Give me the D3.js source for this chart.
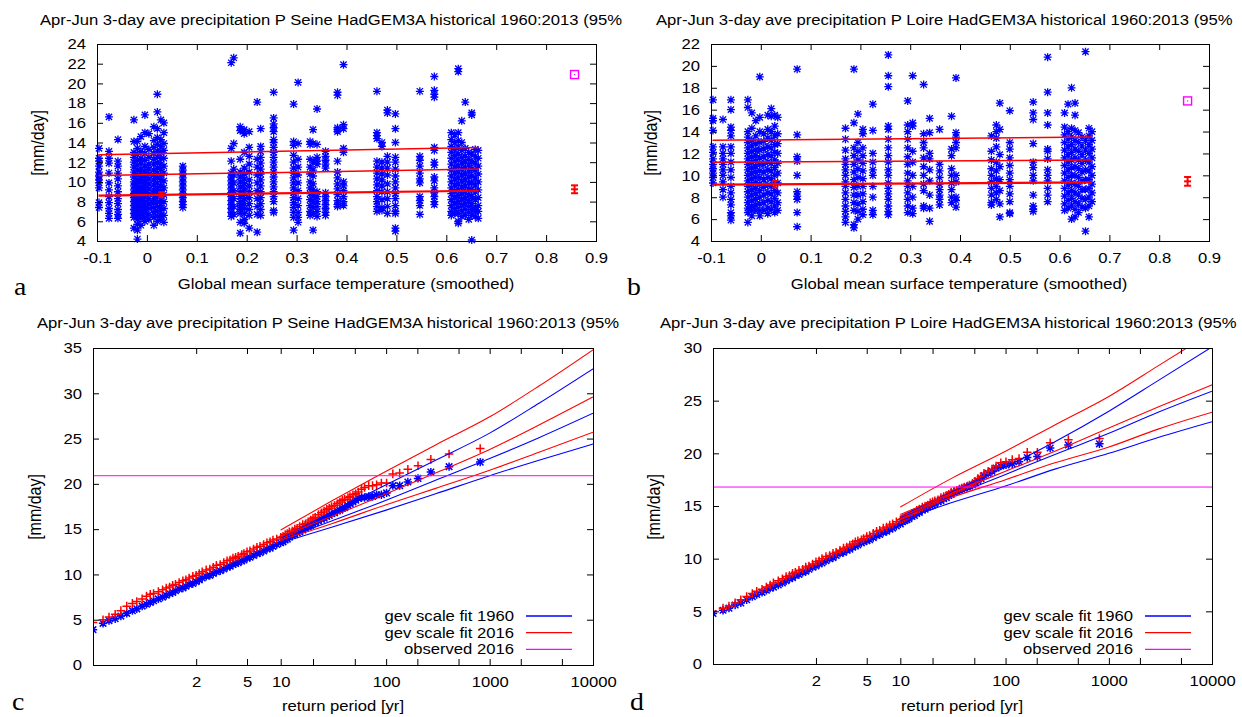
<!DOCTYPE html>
<html>
<head>
<meta charset="utf-8">
<script src="https://cdn.jsdelivr.net/npm/d3@7"></script>
<style>
body { margin: 0; background: #fff; }
svg text { font-family: "Liberation Sans", Arial, Helvetica, sans-serif; font-size: 15px; fill: #000; }
svg text.lett { font-family: "Liberation Serif", "Times New Roman", serif; font-size: 25px; }
svg text.ylab { font-size: 16px; }
</style>
</head>
<body>
<div id="chart"></div>
<script>
// ---- data ----

// panel a: Seine, precipitation against smoothed GMST (one column per model year)
var seineGmst = [-0.096, -0.076, -0.058, -0.026, -0.019, -0.012, -0.004, 0.004, 0.014, 0.021, 0.028, 0.034,
  0.072, 0.169, 0.174, 0.187, 0.195, 0.205, 0.221, 0.228, 0.254, 0.294, 0.303, 0.327, 0.333, 0.341, 0.358,
  0.382, 0.394, 0.461, 0.471, 0.482, 0.498, 0.547, 0.576, 0.610, 0.617, 0.624, 0.631, 0.638, 0.645, 0.651, 0.658, 0.664];
var seinePrecip = [
  [13.4, 12.4, 12.1, 11.6, 11.0, 10.6, 10.2, 9.9, 9.4, 7.9, 7.4],
  [16.6, 13.1, 12.4, 11.9, 10.9, 9.9, 9.2, 8.5, 7.9, 7.3, 6.8, 6.3],
  [14.3, 12.1, 11.6, 10.9, 10.3, 9.6, 9.0, 8.3, 7.8, 7.2, 6.7, 6.3],
  [16.3, 14.1, 13.0, 12.5, 12.0, 11.5, 11.0, 10.5, 10.0, 9.6, 9.2, 8.8, 8.4, 8.0, 7.6, 7.2, 6.8, 6.4, 5.3],
  [14.1, 13.4, 12.8, 12.2, 11.7, 11.2, 10.7, 10.2, 9.8, 9.4, 9.0, 8.6, 8.2, 7.8, 7.4, 7.0, 6.6, 6.2, 5.7, 5.1, 4.2],
  [14.6, 13.1, 12.4, 11.9, 11.3, 10.9, 10.4, 10.0, 9.5, 9.1, 8.7, 8.3, 7.9, 7.5, 7.1, 6.7, 6.3, 5.6],
  [16.8, 15.0, 13.6, 12.9, 12.2, 11.6, 11.1, 10.6, 10.1, 9.7, 9.3, 8.9, 8.5, 8.0, 7.6, 7.2, 6.8, 6.4, 6.0],
  [14.9, 13.3, 12.5, 11.8, 11.3, 10.8, 10.3, 9.8, 9.3, 8.8, 8.3, 7.8, 7.3, 6.7, 6.2],
  [15.6, 14.2, 13.5, 12.9, 12.3, 11.8, 11.2, 10.7, 10.2, 9.7, 9.2, 8.8, 8.3, 7.9, 7.4, 6.9, 6.4, 5.6],
  [18.9, 17.1, 15.4, 14.5, 13.8, 13.1, 12.5, 11.9, 11.4, 10.9, 10.4, 9.9, 9.4, 9.0, 8.5, 8.0, 7.5, 7.0, 6.5, 6.0],
  [16.3, 14.3, 13.6, 13.0, 12.4, 11.8, 11.3, 10.7, 10.2, 9.6, 9.1, 8.6, 8.1, 7.6, 7.1, 6.6, 6.2],
  [16.0, 15.0, 13.9, 13.2, 12.4, 11.6, 10.9, 10.1, 9.4, 8.7, 8.0, 7.3, 6.6, 5.9],
  [11.6, 11.2, 10.8, 10.4, 10.0, 9.6, 9.2, 8.8, 8.4, 8.0, 7.7, 7.4],
  [22.1, 13.4, 12.1, 10.9, 10.5, 10.1, 9.7, 9.3, 8.9, 8.5, 8.1, 7.7, 7.3, 6.9, 6.5],
  [22.6, 13.9, 11.3, 10.7, 9.9, 9.1, 8.3, 7.5, 6.7],
  [15.6, 15.2, 12.3, 11.0, 10.5, 10.0, 9.5, 9.0, 8.5, 8.0, 7.6, 7.2, 6.8, 5.9, 4.8],
  [15.3, 14.9, 13.0, 11.4, 10.8, 10.3, 9.8, 9.3, 8.8, 8.3, 7.8, 7.3, 6.8, 6.2, 5.8],
  [15.1, 13.5, 12.6, 11.8, 11.0, 10.2, 9.6, 9.0, 8.4, 7.8, 7.2, 6.6, 5.3],
  [18.1, 12.3, 11.5, 10.7, 9.9, 9.1, 8.3, 7.5, 6.7, 4.9],
  [15.4, 13.6, 13.1, 12.5, 11.9, 11.3, 10.8, 10.2, 9.6, 9.0, 8.4, 7.8, 7.2, 6.6],
  [19.1, 16.5, 15.9, 15.5, 15.1, 14.3, 14.0, 13.5, 13.0, 12.5, 12.0, 11.5, 11.0, 10.5, 10.0, 9.5, 9.0, 8.5, 8.0, 7.1, 6.9],
  [17.9, 14.1, 13.7, 12.7, 12.0, 11.4, 10.9, 10.4, 9.9, 9.4, 8.9, 8.4, 7.9, 7.4, 6.9, 6.4, 5.1],
  [20.1, 13.9, 12.3, 11.5, 10.7, 9.9, 9.1, 8.3, 7.6, 6.9, 6.4, 5.9],
  [14.1, 13.8, 12.3, 11.5, 10.8, 10.0, 9.4, 8.8, 8.2, 7.6, 7.0, 6.6],
  [15.3, 13.9, 12.0, 11.2, 10.6, 9.8, 9.2, 8.6, 8.0, 7.4, 6.8, 5.1],
  [17.4, 13.8, 12.5, 12.1, 11.8, 9.0, 8.5, 8.0, 7.5, 7.0, 6.5],
  [13.1, 12.6, 12.2, 11.8, 11.4, 8.9, 8.5, 8.1, 7.7, 7.3, 6.9, 6.6],
  [19.1, 18.8, 15.5, 15.3, 15.1, 12.1, 11.0, 10.4, 9.8, 9.3, 8.7, 8.1, 7.7, 7.5],
  [21.9, 15.8, 15.4, 13.4, 13.0, 10.0, 9.6, 9.1, 8.5, 8.0, 7.6],
  [19.2, 15.0, 14.7, 14.4, 12.1, 11.5, 10.9, 10.3, 9.7, 9.1, 8.5, 8.0, 7.5, 7.0],
  [14.0, 13.6, 12.0, 11.4, 10.8, 10.2, 9.6, 9.0, 8.2, 7.4, 7.1],
  [17.3, 17.0, 12.6, 12.0, 11.4, 10.7, 9.8, 9.0, 8.3, 7.5, 6.8],
  [16.9, 15.4, 14.0, 12.5, 12.0, 11.3, 10.6, 10.0, 9.4, 8.8, 8.3, 7.6, 7.0, 6.8, 5.3, 5.0],
  [19.2, 12.6, 12.2, 11.6, 10.9, 10.3, 9.9, 8.5, 8.1, 7.6, 6.7],
  [20.7, 19.3, 18.9, 18.6, 13.5, 13.2, 12.0, 11.7, 10.5, 10.1, 9.4, 8.9, 8.5, 8.0, 7.7],
  [15.0, 14.3, 13.6, 13.0, 12.4, 11.8, 11.2, 10.6, 10.0, 9.4, 8.8, 8.2, 7.6, 7.0, 6.6],
  [14.8, 14.0, 13.3, 12.7, 12.1, 11.5, 10.9, 10.3, 9.7, 9.1, 8.5, 7.9, 7.3, 6.8],
  [21.5, 21.2, 15.0, 14.2, 13.5, 12.8, 12.2, 11.6, 11.0, 10.4, 9.8, 9.2, 8.6, 8.0, 7.4, 6.8, 6.0, 5.8],
  [16.2, 14.0, 13.2, 12.5, 11.9, 11.3, 10.7, 10.1, 9.5, 8.9, 8.3, 7.7, 7.1, 6.5],
  [18.1, 13.4, 12.6, 12.0, 11.4, 10.8, 10.2, 9.6, 9.0, 8.4, 7.8, 7.2, 6.6],
  [13.0, 12.3, 11.7, 11.1, 10.5, 9.9, 9.3, 8.7, 8.1, 7.5, 6.9, 6.2],
  [17.0, 16.8, 12.8, 12.0, 11.3, 10.6, 9.9, 9.2, 8.5, 7.8, 7.2, 6.6, 4.1],
  [13.3, 12.6, 11.9, 11.2, 10.4, 9.7, 9.0, 8.2, 7.4, 7.0, 6.5],
  [13.2, 12.4, 11.6, 10.8, 10.0, 9.2, 8.4, 7.6, 7.0, 6.3]
];

// panel b: Loire
var loireGmst = [-0.096, -0.076, -0.060, -0.026, -0.018, -0.010, -0.002, 0.006, 0.014, 0.021, 0.028, 0.034,
  0.073, 0.170, 0.187, 0.195, 0.205, 0.225, 0.256, 0.295, 0.305, 0.327, 0.339, 0.359, 0.383, 0.392,
  0.463, 0.473, 0.480, 0.500, 0.547, 0.576, 0.610, 0.617, 0.624, 0.631, 0.638, 0.645, 0.652, 0.659, 0.665];
var loirePrecip = [
  [16.9, 15.2, 15.0, 14.1, 12.6, 12.1, 11.5, 11.0, 10.6, 10.2, 9.8, 9.3],
  [15.1, 12.6, 12.0, 11.5, 11.0, 10.5, 10.0, 9.4, 8.7, 8.0],
  [16.9, 16.0, 14.4, 14.1, 13.6, 12.6, 12.0, 11.2, 10.5, 9.8, 9.0, 8.4, 7.8, 7.3, 6.6, 6.3, 5.9],
  [16.9, 16.2, 14.0, 13.5, 13.0, 12.5, 12.0, 11.5, 11.0, 10.5, 10.0, 9.5, 9.0, 8.5, 8.0, 7.5, 7.0, 6.6, 5.7],
  [15.7, 14.3, 13.2, 12.7, 12.2, 11.7, 11.2, 10.7, 10.2, 9.7, 9.2, 8.7, 8.2, 7.7, 7.2, 6.8, 6.3],
  [15.0, 13.6, 12.9, 12.3, 11.8, 11.3, 10.8, 10.3, 9.8, 9.3, 8.8, 8.3, 7.8, 7.3, 6.8],
  [19.0, 15.3, 14.0, 13.0, 12.3, 11.6, 11.0, 10.4, 9.8, 9.2, 8.6, 8.0, 7.4, 6.8, 6.3],
  [13.8, 13.1, 12.4, 11.7, 11.0, 10.3, 9.6, 8.9, 8.2, 7.5, 6.8],
  [15.5, 14.2, 13.4, 12.6, 11.9, 11.2, 10.5, 9.8, 9.1, 8.4, 7.7, 7.0, 6.5],
  [16.1, 15.4, 14.0, 13.2, 12.5, 11.8, 11.1, 10.4, 9.7, 9.0, 8.3, 7.6, 6.9],
  [15.5, 14.5, 13.6, 12.8, 12.1, 11.4, 10.7, 10.0, 9.3, 8.6, 7.9, 7.2, 6.6],
  [15.3, 13.8, 12.9, 12.0, 11.1, 10.2, 9.3, 8.4, 7.5, 6.8],
  [19.7, 13.7, 11.7, 11.3, 10.0, 8.5, 8.1, 7.8, 6.6, 5.3],
  [14.3, 13.3, 12.3, 11.5, 11.0, 10.5, 10.0, 9.4, 9.0, 8.4, 7.8, 7.2, 6.7, 6.2, 5.7],
  [19.7, 14.8, 12.5, 11.8, 11.0, 10.3, 9.6, 8.9, 8.2, 7.5, 6.8, 5.5, 5.2],
  [15.6, 13.0, 12.2, 11.4, 10.6, 9.8, 9.0, 8.2, 7.4, 6.7, 6.0],
  [14.2, 13.8, 12.5, 11.8, 11.1, 10.4, 9.7, 9.0, 8.3, 7.6, 6.9, 6.4],
  [16.5, 14.1, 12.0, 11.2, 10.5, 10.0, 9.0, 8.0, 6.8, 6.4],
  [21.0, 19.1, 18.1, 14.5, 14.2, 13.3, 12.5, 11.8, 11.2, 10.5, 10.0, 9.3, 8.8, 8.3, 7.8, 7.2, 6.7, 6.4],
  [16.8, 14.6, 14.0, 13.3, 12.5, 11.7, 11.0, 10.2, 9.5, 9.0, 8.4, 7.8, 7.2, 6.6],
  [19.1, 14.8, 14.5, 12.2, 11.2, 10.0, 9.0, 8.0, 7.0, 6.5],
  [18.3, 13.8, 13.0, 12.5, 11.6, 10.8, 10.0, 9.2, 8.6, 7.2, 7.0],
  [15.2, 13.9, 12.0, 11.5, 10.5, 9.5, 8.2, 7.0, 5.8],
  [14.2, 11.0, 10.4, 9.8, 9.2, 8.7, 8.2, 7.8, 7.3],
  [15.4, 12.4, 11.8, 10.6, 10.0, 9.3, 8.7, 8.0, 7.5],
  [18.9, 13.9, 13.5, 13.0, 12.5, 10.0, 9.4, 8.0, 7.7, 7.1],
  [13.6, 12.2, 11.4, 10.6, 10.0, 9.4, 8.8, 8.2, 7.5, 7.3],
  [14.6, 14.0, 13.4, 12.6, 11.2, 10.4, 9.7, 9.0, 8.4, 7.8],
  [16.6, 14.2, 11.9, 10.8, 9.6, 8.6, 7.4, 6.2],
  [15.9, 13.0, 12.4, 11.6, 10.9, 10.2, 9.6, 9.0, 8.3, 7.6, 6.6, 6.5],
  [16.7, 15.7, 15.1, 12.9, 11.2, 10.7, 10.0, 9.5, 8.2, 7.2, 6.9, 6.7],
  [20.8, 17.6, 15.7, 14.6, 12.4, 12.2, 11.5, 10.5, 10.0, 9.5, 8.8, 8.2, 7.6],
  [15.7, 14.4, 13.7, 13.0, 12.3, 11.6, 10.9, 10.2, 9.5, 8.8, 8.1, 7.4, 6.8],
  [16.5, 14.0, 13.3, 12.6, 11.9, 11.2, 10.5, 9.8, 9.1, 8.4, 7.7, 7.0],
  [18.0, 14.3, 13.5, 12.8, 12.1, 11.4, 10.7, 10.0, 9.3, 8.6, 7.9, 7.2, 6.0],
  [16.6, 15.5, 14.1, 13.2, 12.4, 11.6, 10.8, 10.0, 9.2, 8.4, 7.6, 6.9, 6.2],
  [13.9, 13.0, 12.2, 11.4, 10.6, 9.8, 9.0, 8.2, 7.4, 6.6],
  [13.5, 12.7, 11.9, 11.1, 10.3, 9.5, 8.7, 7.9, 7.1],
  [21.3, 13.2, 12.3, 11.4, 10.5, 9.6, 8.7, 7.8, 7.0, 4.9],
  [14.3, 13.6, 12.8, 12.0, 11.2, 10.4, 9.6, 8.8, 8.0, 7.2, 6.2],
  [14.0, 13.2, 12.4, 11.6, 10.8, 10.0, 9.2, 8.4, 7.6]
];

// fitted location lines (mu, mu+sigma, mu+2sigma) at the ends of the GMST range
var fitGmst = [-0.097, 0.665];
var seineFitLines = [[8.6, 9.1], [10.65, 11.3], [12.75, 13.5]];
var loireFitLines = [[9.15, 9.35], [11.2, 11.4], [13.2, 13.5]];

// error bars [low, mid, high] for 1960 and 2016, observed 2016 value
var gmst1960 = 0.029, gmst2016 = 0.857;
var seineErr1960 = [8.45, 8.7, 8.95], seineErr2016 = [8.85, 9.25, 9.65];
var loireErr1960 = [8.9, 9.2, 9.5], loireErr2016 = [9.05, 9.45, 9.85];
var seineObs2016 = 20.9, loireObs2016 = 16.8;

// panels c, d: sorted values against empirical return period (yr)
var retPeriod = [810, 405, 270, 203, 162, 135, 116, 101, 90, 81, 74, 68, 62, 58, 54, 51, 48, 45, 43, 40,
  38, 36, 34, 32, 30, 28.5, 27, 25.5, 24, 22.5, 21, 20, 19, 18, 17, 16, 15, 14.2, 13.5, 12.8, 12, 11.5, 11, 10.5,
  10, 9.2, 8.5, 8, 7.5, 7, 6.5, 6.1, 5.7, 5.3, 5, 4.7, 4.5, 4.2, 4, 3.8, 3.6, 3.4, 3.2, 3, 2.8, 2.65, 2.5, 2.35,
  2.2, 2.1, 2, 1.9, 1.8, 1.72, 1.65, 1.57, 1.5, 1.45, 1.4, 1.35, 1.3, 1.25, 1.2, 1.17, 1.14, 1.11, 1.08, 1.06,
  1.04, 1.025, 1.015, 1.008, 1.004, 1.001];
var seine1960 = [22.4, 21.9, 21.3, 20.6, 20.2, 19.8, 19.8, 19.0, 18.8, 18.8, 18.6, 18.6, 18.5, 18.5, 18.4, 18.2, 18.0, 17.8, 17.6, 17.4,
  17.3, 17.1, 17.0, 16.8, 16.7, 16.5, 16.4, 16.2, 16.1, 15.9, 15.7, 15.6, 15.4, 15.3, 15.1, 14.9, 14.7, 14.6, 14.4, 14.3, 14.1, 13.9, 13.8, 13.6,
  13.5, 13.3, 13.1, 12.9, 12.8, 12.6, 12.4, 12.3, 12.1, 11.9, 11.8, 11.6, 11.5, 11.3, 11.2, 11.1, 10.9, 10.8, 10.6, 10.4, 10.3, 10.1, 9.9, 9.8,
  9.6, 9.4, 9.2, 9.0, 8.9, 8.7, 8.5, 8.4, 8.2, 8.0, 7.9, 7.7, 7.5, 7.3, 7.1, 6.9, 6.7, 6.5, 6.2, 6.0,
  5.7, 5.4, 5.1, 4.9, 4.6, 3.9];
var seine2016 = [23.9, 23.3, 22.7, 22.0, 21.6, 21.2, 21.1, 20.1, 20.1, 19.9, 19.8, 19.8, 19.6, 19.4, 19.1, 18.9, 18.8, 18.6, 18.5, 18.3,
  18.2, 18.0, 17.8, 17.6, 17.5, 17.3, 17.2, 17.0, 16.8, 16.6, 16.3, 16.2, 16.0, 15.8, 15.6, 15.5, 15.3, 15.1, 15.0, 14.8, 14.7, 14.5, 14.4, 14.2,
  14.1, 13.9, 13.8, 13.6, 13.5, 13.3, 13.1, 13.0, 12.8, 12.6, 12.5, 12.3, 12.2, 12.0, 11.9, 11.8, 11.6, 11.5, 11.3, 11.1, 11.0, 10.8, 10.6, 10.5,
  10.3, 10.1, 9.9, 9.8, 9.6, 9.4, 9.3, 9.1, 8.9, 8.8, 8.6, 8.5, 8.3, 8.1, 7.9, 7.8, 7.6, 7.3, 7.0, 6.8,
  6.5, 6.0, 5.6, 5.3, 5.0, 4.7];
var loire1960 = [20.9, 20.8, 20.5, 19.7, 19.6, 19.2, 19.0, 18.9, 18.8, 18.6, 18.3, 18.1, 17.9, 17.6, 17.4, 17.2, 17.0, 16.9, 16.8, 16.7,
  16.6, 16.5, 16.4, 16.3, 16.1, 16.0, 15.8, 15.7, 15.5, 15.4, 15.2, 15.1, 15.0, 14.9, 14.7, 14.6, 14.4, 14.3, 14.1, 14.0, 13.8, 13.7, 13.6, 13.5,
  13.3, 13.1, 12.9, 12.8, 12.6, 12.5, 12.3, 12.2, 12.0, 11.8, 11.7, 11.6, 11.5, 11.3, 11.2, 11.1, 10.9, 10.8, 10.6, 10.5, 10.3, 10.1, 10.0, 9.8,
  9.6, 9.5, 9.3, 9.2, 9.0, 8.8, 8.7, 8.5, 8.4, 8.2, 8.1, 7.9, 7.7, 7.5, 7.3, 7.2, 7.0, 6.8, 6.6, 6.4,
  6.1, 5.8, 5.6, 5.3, 5.1, 4.8];
var loire2016 = [21.4, 21.3, 21.0, 20.1, 20.1, 19.5, 19.4, 19.2, 19.1, 18.8, 18.5, 18.3, 18.1, 17.8, 17.6, 17.3, 17.1, 17.0, 16.9, 16.8,
  16.7, 16.6, 16.5, 16.4, 16.3, 16.1, 16.0, 15.9, 15.8, 15.6, 15.5, 15.4, 15.3, 15.1, 15.0, 14.9, 14.7, 14.6, 14.4, 14.3, 14.1, 14.0, 13.9, 13.8,
  13.7, 13.5, 13.3, 13.2, 13.0, 12.9, 12.7, 12.6, 12.4, 12.2, 12.1, 11.9, 11.8, 11.7, 11.6, 11.4, 11.3, 11.1, 11.0, 10.8, 10.6, 10.5, 10.3, 10.2,
  10.0, 9.8, 9.7, 9.5, 9.3, 9.2, 9.0, 8.9, 8.7, 8.6, 8.4, 8.3, 8.1, 7.9, 7.7, 7.5, 7.3, 7.1, 6.9, 6.7,
  6.4, 6.1, 5.8, 5.5, 5.3, 5.0];

// GEV fits (lower, central, upper) at these return periods
var fitPeriod = [10, 30, 100, 300, 1000, 3000, 10000];
var seineFit1960 = [[13.5, 15.2, 17.1, 18.9, 20.9, 22.6, 24.4], [13.8, 15.9, 18.2, 20.4, 22.8, 25.1, 27.8], [14.0, 16.9, 19.9, 22.6, 25.6, 28.9, 32.7]];
var seineFit2016 = [[13.8, 15.6, 17.7, 19.5, 21.5, 23.5, 25.7], [14.2, 16.4, 18.9, 21.2, 23.8, 26.5, 29.6], [14.9, 18.1, 21.4, 24.3, 27.4, 30.8, 34.8]];
var loireFit1960 = [[13.6, 15.3, 16.9, 18.5, 20.0, 21.5, 23.0], [13.9, 15.9, 18.0, 19.9, 21.9, 23.9, 25.9], [14.0, 16.3, 18.7, 21.1, 24.0, 26.9, 30.1]];
var loireFit2016 = [[14.0, 15.8, 17.5, 19.1, 20.6, 22.3, 23.9], [14.2, 16.2, 18.3, 20.2, 22.4, 24.4, 26.5], [14.9, 17.6, 20.2, 22.7, 25.4, 28.3, 31.5]];

// ticks
var gmstTicks = [-0.1, 0, 0.1, 0.2, 0.3, 0.4, 0.5, 0.6, 0.7, 0.8, 0.9];
var seineTicks = [4, 6, 8, 10, 12, 14, 16, 18, 20, 22, 24];
var loireTicks = [4, 6, 8, 10, 12, 14, 16, 18, 20, 22];
var rpTicks = [2, 5, 10, 20, 50, 100, 200, 500, 1000, 2000, 5000, 10000];
var rpLabelled = [2, 5, 10, 100, 1000, 10000];
var seineRpTicks = [0, 5, 10, 15, 20, 25, 30, 35];
var loireRpTicks = [0, 5, 10, 15, 20, 25, 30];
var rpMin = 1.001, rpMax = 10000;

// titles as far as they are visible in the figure
var titleSeine = "Apr-Jun 3-day ave precipitation P Seine HadGEM3A historical 1960:2013 (95%";
var titleLoire = "Apr-Jun 3-day ave precipitation P Loire HadGEM3A historical 1960:2013 (95%";

// ---- drawing ----
var W = 1242, H = 717, SX = 1.11;
var BLUE = "#0000ff", RED = "#ff0000", MAG = "#ff00ff";

var svg = d3.select("#chart").append("svg")
  .attr("width", W).attr("height", H);

var defs = svg.append("defs");

// gumbel reduced variate, used for the return period axis
function gum(T) { return -Math.log(-Math.log(1 - 1 / T)); }

function star(r) {
  var a = r * 0.78;
  return "M" + (-r) + ",0H" + r + "M0," + (-r) + "V" + r +
    "M" + (-a) + "," + (-a) + "L" + a + "," + a + "M" + (-a) + "," + a + "L" + a + "," + (-a);
}
function plus(r) {
  return "M" + (-r) + ",0H" + r + "M0," + (-r) + "V" + r;
}

function label(g, x, y, s, anchor, cls) {
  return g.append("text")
    .attr("class", cls || null)
    .attr("text-anchor", anchor || "start")
    .attr("transform", "translate(" + x + "," + y + ") scale(" + SX + ",1)")
    .text(s);
}

// title, squeezed a little if it would run past the right end of its half
function title(g, x, y, s, maxRight) {
  var t = label(g, x, y, s);
  var wd = t.node().getComputedTextLength() * SX;
  if (x + wd > maxRight) {
    var k = (maxRight - x) / wd;
    t.attr("transform", "translate(" + x + "," + y + ") scale(" + (SX * k) + ",1)");
  }
  return t;
}

function frame(g, xs, ys, xt, xf, yt, w, h) {
  var ax;
  ax = g.append("g").attr("transform", "translate(0," + h + ")")
    .call(d3.axisBottom(xs).tickValues(xt).tickFormat(xf).tickSizeInner(-6).tickSizeOuter(0).tickPadding(11));
  ax.select(".domain").remove();
  ax = g.append("g")
    .call(d3.axisTop(xs).tickValues(xt).tickFormat("").tickSizeInner(-6).tickSizeOuter(0));
  ax.select(".domain").remove();
  ax = g.append("g")
    .call(d3.axisLeft(ys).tickValues(yt).tickFormat(function(d){ return String(d); })
      .tickSizeInner(-6).tickSizeOuter(0).tickPadding(10));
  ax.select(".domain").remove();
  ax = g.append("g").attr("transform", "translate(" + w + ",0)")
    .call(d3.axisRight(ys).tickValues(yt).tickFormat("").tickSizeInner(-6).tickSizeOuter(0));
  ax.select(".domain").remove();
  g.selectAll(".tick text").attr("transform", "scale(" + SX + ",1)");
  g.selectAll(".tick line").attr("stroke", "#000");
  g.append("rect")
    .attr("x", 0.5).attr("y", 0.5).attr("width", w).attr("height", h)
    .attr("fill", "none").attr("stroke", "#000").attr("stroke-width", 1);
}

function errBar(g, x, e, half) {
  var eb = g.append("g").attr("stroke", RED).attr("stroke-width", 2).attr("fill", "none");
  eb.append("line").attr("x1", x).attr("x2", x).attr("y1", e[0]).attr("y2", e[2]);
  [e[0], e[1], e[2]].forEach(function(v) {
    eb.append("line").attr("x1", x - half).attr("x2", x + half).attr("y1", v).attr("y2", v);
  });
}

function scatterPanel(cfg) {
  var root = svg.append("g");
  title(root, cfg.titleX, 25, cfg.title, cfg.right);
  var w = cfg.w, h = 197;
  var g = root.append("g").attr("transform", "translate(" + cfg.left + ",44)");
  var xs = d3.scaleLinear().domain([-0.1, 0.9]).range([0, w]);
  var ys = d3.scaleLinear().domain([4, cfg.yMax]).range([h, 0]);

  var pts = [];
  cfg.gmst.forEach(function(x, i) {
    cfg.precip[i].forEach(function(v) { pts.push([x, v]); });
  });

  var plot = g.append("g");
  plot.selectAll(".dots").data(pts).enter().append("path")
    .attr("class", "dots")
    .attr("d", star(4))
    .attr("transform", function(d) { return "translate(" + xs(d[0]) + "," + ys(d[1]) + ")"; })
    .attr("fill", "none").attr("stroke", BLUE).attr("stroke-width", 1.3);

  var line = d3.line().x(function(d) { return xs(d[0]); }).y(function(d) { return ys(d[1]); });
  cfg.fit.forEach(function(f, i) {
    plot.append("path")
      .attr("d", line([[fitGmst[0], f[0]], [fitGmst[1], f[1]]]))
      .attr("fill", "none").attr("stroke", RED).attr("stroke-width", i === 0 ? 2.2 : 1.5);
  });

  errBar(plot, xs(gmst1960), cfg.err1960.map(ys), 3);
  errBar(plot, xs(gmst2016), cfg.err2016.map(ys), 3.5);

  plot.append("rect")
    .attr("x", xs(gmst2016) - 4).attr("y", ys(cfg.obs) - 4).attr("width", 8).attr("height", 8)
    .attr("fill", "none").attr("stroke", MAG).attr("stroke-width", 1.4);
  plot.append("rect")
    .attr("x", xs(gmst2016) - 0.6).attr("y", ys(cfg.obs) - 0.6).attr("width", 1.2).attr("height", 1.2)
    .attr("fill", MAG);

  frame(g, xs, ys, gmstTicks, function(d) { return String(+d.toFixed(1)); }, cfg.yTicks, w, h);

  label(root, cfg.xLabelX, 289, "Global mean surface temperature (smoothed)", "middle");
  root.append("text")
    .attr("class", "ylab")
    .attr("text-anchor", "middle")
    .attr("transform", "translate(" + cfg.yLabelX + ",143) scale(" + SX + ",1) rotate(-90)")
    .text("[mm/day]");
  label(root, cfg.letterX, 295, cfg.letter, "start", "lett");
}

function returnPanel(cfg) {
  var root = svg.append("g");
  title(root, cfg.titleX, 328, cfg.title, cfg.right);
  var w = cfg.w, h = cfg.h;
  var g = root.append("g").attr("transform", "translate(" + cfg.left + ",348)");
  var xg = d3.scaleLinear().domain([gum(rpMin), gum(rpMax)]).range([0, w]);
  var xs = function(T) { return xg(gum(T)); };
  var ys = d3.scaleLinear().domain([0, cfg.yMax]).range([h, 0]);

  defs.append("clipPath").attr("id", "plot" + cfg.letter).append("rect")
    .attr("x", 0).attr("y", 0).attr("width", w).attr("height", h);
  var plot = g.append("g").attr("clip-path", "url(#plot" + cfg.letter + ")");

  plot.selectAll(".obs60").data(retPeriod).enter().append("path")
    .attr("class", "obs60")
    .attr("d", star(4.2))
    .attr("transform", function(T, i) { return "translate(" + xs(T) + "," + ys(cfg.v1960[i]) + ")"; })
    .attr("fill", "none").attr("stroke", BLUE).attr("stroke-width", 1.5);
  plot.selectAll(".obs16").data(retPeriod).enter().append("path")
    .attr("class", "obs16")
    .attr("d", plus(4.3))
    .attr("transform", function(T, i) { return "translate(" + xs(T) + "," + ys(cfg.v2016[i]) + ")"; })
    .attr("fill", "none").attr("stroke", RED).attr("stroke-width", 1.5);

  var line = d3.line()
    .x(function(d, i) { return xs(fitPeriod[i]); })
    .y(function(d) { return ys(d); })
    .curve(d3.curveMonotoneX);
  cfg.fit1960.forEach(function(f) {
    plot.append("path").attr("d", line(f)).attr("fill", "none").attr("stroke", BLUE).attr("stroke-width", 1.1);
  });
  cfg.fit2016.forEach(function(f) {
    plot.append("path").attr("d", line(f)).attr("fill", "none").attr("stroke", RED).attr("stroke-width", 1.1);
  });
  plot.append("line")
    .attr("x1", 0).attr("x2", w).attr("y1", ys(cfg.obs)).attr("y2", ys(cfg.obs))
    .attr("stroke", MAG).attr("stroke-width", 1);

  frame(g, xg, ys, rpTicks.map(gum), function(d, i) {
    return rpLabelled.indexOf(rpTicks[i]) >= 0 ? String(rpTicks[i]) : "";
  }, cfg.yTicks, w, h);

  // legend
  var leg = [["gev scale fit 1960", BLUE], ["gev scale fit 2016", RED], ["observed 2016", MAG]];
  leg.forEach(function(l, i) {
    var yy = 616 + i * 16.7;
    label(root, cfg.legX, yy + 5, l[0], "end");
    root.append("line")
      .attr("x1", cfg.legX + 12).attr("x2", cfg.legX + 58).attr("y1", yy).attr("y2", yy)
      .attr("stroke", l[1]).attr("stroke-width", 1.3);
  });

  label(root, cfg.xLabelX, 711, "return period [yr]", "middle");
  root.append("text")
    .attr("class", "ylab")
    .attr("text-anchor", "middle")
    .attr("transform", "translate(" + cfg.yLabelX + ",507) scale(" + SX + ",1) rotate(-90)")
    .text("[mm/day]");
  label(root, cfg.letterX, 710, cfg.letter, "start", "lett");
}

scatterPanel({
  title: titleSeine, titleX: 40, right: 622, left: 97, w: 499, yMax: 24, yTicks: seineTicks,
  gmst: seineGmst, precip: seinePrecip, fit: seineFitLines, err1960: seineErr1960, err2016: seineErr2016,
  obs: seineObs2016, xLabelX: 346, yLabelX: 44, letter: "a", letterX: 14
});
scatterPanel({
  title: titleLoire, titleX: 656, right: 1241, left: 711, w: 498, yMax: 22, yTicks: loireTicks,
  gmst: loireGmst, precip: loirePrecip, fit: loireFitLines, err1960: loireErr1960, err2016: loireErr2016,
  obs: loireObs2016, xLabelX: 959, yLabelX: 657, letter: "b", letterX: 627
});
returnPanel({
  title: titleSeine, titleX: 37, right: 622, left: 93, w: 500, h: 317, yMax: 35, yTicks: seineRpTicks,
  v1960: seine1960, v2016: seine2016, fit1960: seineFit1960, fit2016: seineFit2016, obs: seineObs2016,
  legX: 514, xLabelX: 343, yLabelX: 41, letter: "c", letterX: 12
});
returnPanel({
  title: titleLoire, titleX: 660, right: 1241, left: 713, w: 499, h: 316, yMax: 30, yTicks: loireRpTicks,
  v1960: loire1960, v2016: loire2016, fit1960: loireFit1960, fit2016: loireFit2016, obs: loireObs2016,
  legX: 1133, xLabelX: 962, yLabelX: 660, letter: "d", letterX: 630
});
</script>
</body>
</html>
